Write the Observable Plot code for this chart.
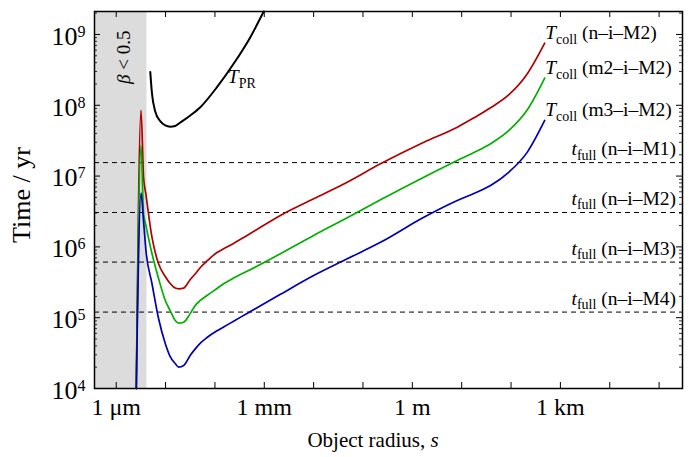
<!DOCTYPE html>
<html><head><meta charset="utf-8">
<script src="https://cdn.jsdelivr.net/npm/d3@7"></script>
<script src="https://cdn.jsdelivr.net/npm/@observablehq/plot@0.6"></script>
<style>body{margin:0;background:#fff} svg{display:block}</style>
</head><body><div id="chart"></div>
<script>
// Object radius s (m) shared by the three collision-time curves
const radius = [2.55e-6, 3.18e-6, 3.58e-6, 4.0e-6, 5.30e-6, 7.21e-6, 9.86e-6, 1.24e-5, 1.57e-5, 1.84e-5,
  2.32e-5, 3.17e-5, 4.0e-5, 5.06e-5, 6.92e-5, 1.10e-4, 1.50e-4, 2.39e-4, 4.48e-4, 2.12e-3,
  1.0e-2, 4.79e-2, 0.226, 1.71, 8.15, 17.7, 38.5, 90.6, 214, 481];
// T_coll (yr)
const tcollN = [1e4, 8.45e7, 9.64e6, 5.50e6, 1.37e6, 5.77e5, 3.82e5, 3.04e5, 2.62e5, 2.56e5,
  2.62e5, 3.47e5, 4.17e5, 5.12e5, 6.32e5, 8.34e5, 9.40e5, 1.12e6, 1.45e6, 2.78e6,
  4.78e6, 8.20e6, 1.49e7, 3.01e7, 4.91e7, 6.65e7, 9.23e7, 1.41e8, 2.79e8, 7.53e8];
const tcollM2 = [1e4, 2.70e7, 2.96e6, 2.00e6, 8.07e5, 3.58e5, 1.75e5, 1.26e5, 9.12e4, 8.36e4,
  8.63e4, 1.15e5, 1.49e5, 1.75e5, 2.06e5, 2.58e5, 3.01e5, 3.63e5, 4.52e5, 8.00e5,
  1.45e6, 2.58e6, 4.62e6, 9.64e6, 1.66e7, 2.15e7, 2.86e7, 4.41e7, 8.63e7, 2.42e8];
const tcollM3 = [1e4, 5.73e6, 2.29e6, 8.89e5, 3.04e5, 9.75e4, 4.33e4, 2.83e4, 2.25e4, 2.00e4,
  2.11e4, 2.95e4, 3.63e4, 4.37e4, 5.25e4, 6.53e4, 7.41e4, 8.91e4, 1.15e5, 2.14e5,
  3.94e5, 6.79e5, 1.16e6, 2.62e6, 4.52e6, 5.68e6, 7.36e6, 1.14e7, 2.18e7, 6.10e7];
const collModels = ["n–i–M2", "m2–i–M2", "m3–i–M2"];
const collColors = ["#b00000", "#00b000", "#0000b4"];

// Poynting-Robertson time
const prRadius = [4.9e-6, 5.30e-6, 6.18e-6, 7.80e-6, 9.86e-6, 1.24e-5, 1.57e-5, 1.99e-5, 3.17e-5,
  5.06e-5, 1.10e-4, 2.39e-4, 5.22e-4, 9.73e-4];
const prTime = [2.94e8, 1.47e8, 8.17e7, 5.96e7, 5.19e7, 4.99e7, 5.11e7, 5.71e7, 7.18e7,
  9.40e7, 1.80e8, 3.85e8, 9.16e8, 2.11e9];

// t_full horizontal levels
const tfullTimes = [1.55e7, 3.06e6, 6.1e5, 1.2e5];
const tfullModels = ["n–i–M1", "n–i–M2", "n–i–M3", "n–i–M4"];

const betaLimit = 4.2e-6;
const xDomain = [3.63e-7, 2.98e5];
const yDomain = [1e4, 2.11e9];
const xMajor = [1e-6, 1e-5, 1e-4, 1e-3, 1e-2, 1e-1, 1, 10, 100, 1e3, 1e4, 1e5];
const xLabelTicks = [1e-6, 1e-3, 1, 1e3];
const xLabelText = ["1 μm", "1 mm", "1 m", "1 km"];
const yMajor = [1e4, 1e5, 1e6, 1e7, 1e8, 1e9];
const prLabel = {s: 1.87e-4, T: 2.0e8};
const betaLabelT = 4.7e8;

const collRows = [];
[tcollN, tcollM2, tcollM3].forEach((arr, k) => arr.forEach((T, i) => collRows.push({s: radius[i], T, model: collModels[k]})));
const prRows = prRadius.map((s, i) => ({s, T: prTime[i]}));
const yMinor = [];
for (let e = 4; e <= 9; e++) for (let m = 2; m <= 9; m++) { const v = m * Math.pow(10, e); if (v <= yDomain[1]) yMinor.push(v); }

const W = 691, H = 457, mL = 94, mR = 9, mT = 11, mB = 69;
const innerW = W - mL - mR, innerH = H - mT - mB;
const FONT = "Liberation Serif";

const chart = Plot.plot({
  width: W, height: H, marginLeft: mL, marginRight: mR, marginTop: mT, marginBottom: mB,
  style: {fontFamily: FONT, background: "white", color: "black"},
  x: {type: "log", domain: xDomain},
  y: {type: "log", domain: yDomain},
  color: {domain: collModels, range: collColors},
  marks: [
    Plot.rect([{x1: xDomain[0], x2: betaLimit}], {x1: "x1", x2: "x2", fill: "#dcdcdc"}),
    Plot.ruleY(tfullTimes, {stroke: "black", strokeWidth: 1, strokeDasharray: "5,4"}),
    Plot.line(collRows, {x: "s", y: "T", z: "model", stroke: "model", strokeWidth: 1.7, curve: "monotone-x"}),
    Plot.line(prRows, {x: "s", y: "T", stroke: "black", strokeWidth: 2, curve: "monotone-x"}),
    Plot.frame({stroke: "black", strokeWidth: 1.5}),
    Plot.ruleX(xMajor, {insetTop: innerH - 6, strokeWidth: 1}),
    Plot.ruleX(xMajor, {insetBottom: innerH - 6, strokeWidth: 1}),
    Plot.ruleY(yMajor, {insetRight: innerW - 6, strokeWidth: 1}),
    Plot.ruleY(yMajor, {insetLeft: innerW - 6, strokeWidth: 1}),
    Plot.ruleY(yMinor, {insetRight: innerW - 3, strokeWidth: 0.8}),
    Plot.ruleY(yMinor, {insetLeft: innerW - 3, strokeWidth: 0.8}),
    Plot.axisX({ticks: xLabelTicks, tickSize: 0, tickPadding: 9, fontSize: 24, label: null,
      tickFormat: d => xLabelText[xLabelTicks.indexOf(d)]}),
    Plot.axisY({ticks: yMajor, tickSize: 0, tickPadding: 9, fontSize: 26, label: null, dy: 2,
      tickFormat: d => "10^" + Math.round(Math.log10(d))})
  ]
});
document.getElementById("chart").appendChild(chart);

const svg = d3.select(chart);
const xs = v => chart.scale("x").apply(v);
const ys = v => chart.scale("y").apply(v);

svg.selectAll('g[aria-label="y-axis tick label"] text').each(function () {
  const t = d3.select(this);
  const parts = t.text().split("^");
  t.text(null);
  t.append("tspan").text(parts[0]);
  t.append("tspan").attr("dy", "-0.5em").attr("font-size", "16px").text(parts[1]);
});

const g = svg.append("g").attr("font-family", FONT).attr("fill", "black");

function subLabel(x, y, main, sub, rest, anchor, subDy) {
  const t = g.append("text").attr("x", x).attr("y", y).attr("font-size", "19.5px").attr("text-anchor", anchor || "start");
  t.append("tspan").attr("font-style", "italic").text(main);
  t.append("tspan").attr("dy", subDy).attr("font-size", "14px").text(sub);
  if (rest) t.append("tspan").attr("dy", -subDy).attr("font-size", "19.5px").text(rest);
  return t;
}

// T_coll labels at curve ends
const last = radius.length - 1;
[tcollN, tcollM2, tcollM3].forEach((arr, k) => {
  subLabel(xs(radius[last]) + 1, ys(arr[last]) - 3.5, "T", "coll", " (" + collModels[k] + ")", "start", 5);
});

// t_full labels
tfullTimes.forEach((T, k) => {
  subLabel(xs(xDomain[1]) - 6, ys(T) - 7, "t", "full", " (" + tfullModels[k] + ")", "end", 4.5);
});

// T_PR label
subLabel(xs(prLabel.s), ys(prLabel.T), "T", "PR", null, "start", 5);

// beta label
const bx = xs(betaLimit) - 16.5, by = ys(betaLabelT);
const bt = g.append("text").attr("transform", `translate(${bx},${by}) rotate(-90)`)
  .attr("text-anchor", "middle").attr("font-size", "19px");
bt.append("tspan").attr("font-style", "italic").text("β");
bt.append("tspan").text(" < 0.5");

// axis titles
const xt = g.append("text").attr("x", 373).attr("y", 447).attr("text-anchor", "middle").attr("font-size", "21px");
xt.append("tspan").text("Object radius, ");
xt.append("tspan").attr("font-style", "italic").text("s");

g.append("text").attr("transform", `translate(30,${(mT + H - mB) / 2 - 4.5}) rotate(-90)`)
  .attr("text-anchor", "middle").attr("font-size", "26px").text("Time / yr");
</script>
</body></html>
